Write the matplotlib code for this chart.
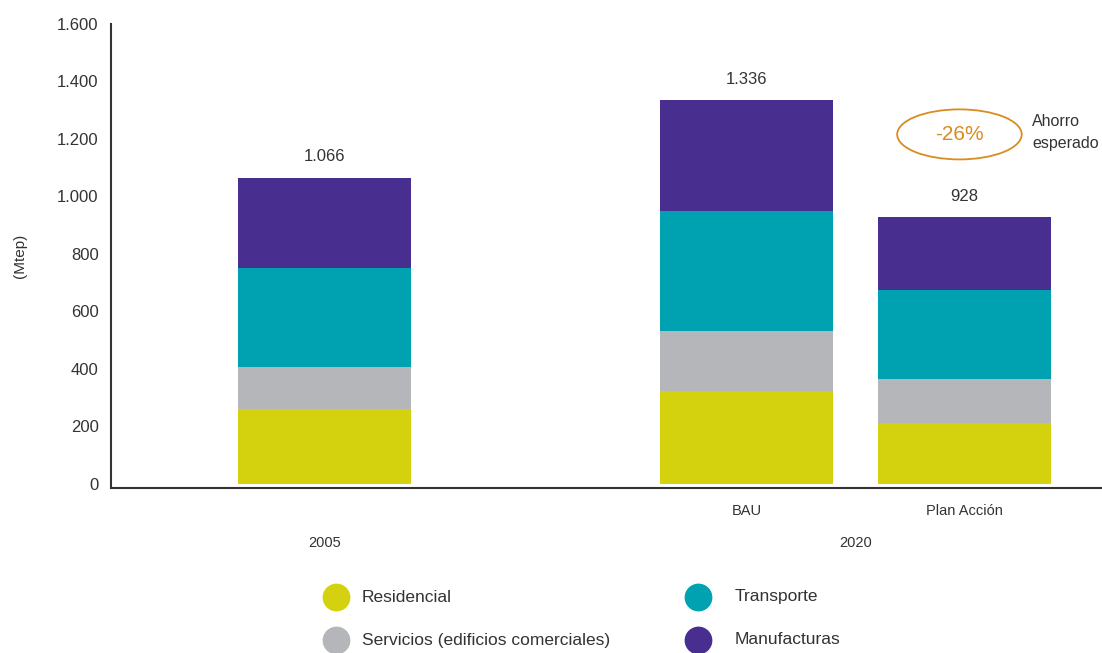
import matplotlib
matplotlib.use("Agg")
import matplotlib.pyplot as plt
from matplotlib.patches import Ellipse
from matplotlib.lines import Line2D

plt.rcParams['font.family'] = ['Liberation Sans Narrow', 'Liberation Sans', 'DejaVu Sans']

# Energy demand by sector (Mtep)
scenarios = ["2005", "BAU", "Plan Acción"]
sectors = ["Residencial", "Servicios (edificios comerciales)", "Transporte", "Manufacturas"]
residencial = [261, 323, 212]
servicios = [146, 209, 153]
transporte = [344, 418, 310]
manufacturas = [315, 386, 253]
totals = [1066, 1336, 928]
yticks = [0, 200, 400, 600, 800, 1000, 1200, 1400, 1600]
saving_label = "-26%"

colors = ["#D4D10F", "#B5B6B9", "#00A1B0", "#482F8F"]
text_c = "#333333"
orange = "#D98C1F"

fig = plt.figure(figsize=(11.02, 6.53), dpi=100)
W, H = 1102, 653
ax = fig.add_axes([111 / W, 1 - 488 / H, (W - 111) / W, (488 - 24) / H])

xpos = [0.0, 2.439, 3.70]
bottom = [0, 0, 0]
for vals, col in zip([residencial, servicios, transporte, manufacturas], colors):
    ax.bar(xpos, vals, width=1.0, bottom=bottom, color=col, linewidth=0)
    bottom = [b + v for b, v in zip(bottom, vals)]

def fmt(v):
    return f"{v:,}".replace(",", ".")

for x, t in zip(xpos, totals):
    ax.annotate(fmt(t), (x, t), xytext=(0, 15), textcoords="offset points",
                ha="center", va="center", fontsize=12, color=text_c)

ax.set_xlim(-1.234, 4.494)
ax.set_ylim(-14, 1600)
ax.set_yticks(yticks)
ax.set_yticklabels([fmt(v) for v in yticks], fontsize=12, color=text_c)
ax.tick_params(axis="y", length=0, pad=9)
ax.set_xticks([])
for s in ["top", "right"]:
    ax.spines[s].set_visible(False)
for s in ["left", "bottom"]:
    ax.spines[s].set_color(text_c)
    ax.spines[s].set_linewidth(1.5)

fig.text(20 / W, 1 - 256 / H, "(Mtep)", rotation=90, ha="center", va="center",
         fontsize=11, color=text_c)

# Category labels below the axis
ax.text(xpos[1], -95, "BAU", ha="center", va="center", fontsize=10.5, color=text_c)
ax.text(xpos[2], -95, "Plan Acción", ha="center", va="center", fontsize=10.5, color=text_c)
ax.text(xpos[0], -205, "2005", ha="center", va="center", fontsize=10.5, color=text_c)
ax.text((xpos[1] + xpos[2]) / 2, -205, "2020", ha="center", va="center", fontsize=10.5, color=text_c)

# Expected saving callout
ell = Ellipse((3.67, 1216), width=0.72, height=174, fill=False, edgecolor=orange, linewidth=1.3)
ax.add_patch(ell)
ax.text(3.67, 1216, saving_label, ha="center", va="center", fontsize=15, color=orange)
ax.text(4.09, 1223, "Ahorro\nesperado", ha="left", va="center", fontsize=11.5,
        color=text_c, linespacing=1.6)

# Legend
leg_items = [(336, 597, 362), (336, 640, 362), (698, 597, 735), (698, 640, 735)]
for (cx, cy, tx), lab, col in zip(leg_items, sectors, colors):
    fig.add_artist(Line2D([cx / W], [1 - cy / H], marker="o", markersize=20,
                          markerfacecolor=col, markeredgewidth=0, linestyle="none",
                          transform=fig.transFigure))
    fig.text(tx / W, 1 - cy / H, lab, ha="left", va="center", fontsize=12.5, color=text_c)

fig.savefig("out.png", dpi=100)
